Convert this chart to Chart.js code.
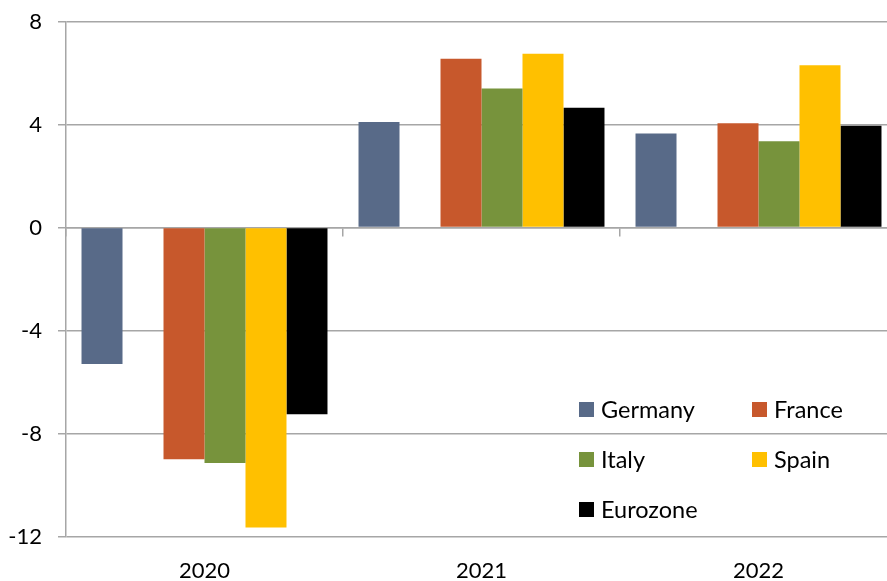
<!DOCTYPE html>
<html>
<head>
<meta charset="utf-8">
<script src="https://cdn.jsdelivr.net/npm/chart.js@4/dist/chart.umd.min.js"></script>
<style>
    html, body { margin: 0; padding: 0; background: #fff; overflow: hidden; }
    #wrap { position: relative; width: 900px; height: 581px; }
    #chart { display: block; }
    #legend {
        position: absolute; left: 579px; top: 384px;
        display: grid; grid-template-columns: 173px 120px; row-gap: 0;
        font-family: Lato, "Open Sans", sans-serif; font-size: 23.5px; color: #000;
    }
    #legend .item { display: flex; align-items: center; height: 50px; }
    #legend .box { width: 15px; height: 15px; margin-right: 7px; }
</style>
</head>
<body>
<div id="wrap">
    <canvas id="chart" width="900" height="581"></canvas>
    <div id="legend"></div>
</div>
<script>
// Data
const years = ["2020", "2021", "2022"];
const germany = [-5.3, 4.1, 3.65];
const france = [-9.0, 6.55, 4.05];
const italy = [-9.15, 5.4, 3.35];
const spain = [-11.65, 6.75, 6.3];
const eurozone = [-7.25, 4.65, 3.95];
const yTicks = [-12, -8, -4, 0, 4, 8];

const GRID = "#a6a6a6";
const FONT = { family: "Lato, 'Open Sans', sans-serif", size: 22 };

function bar(label, data, color) {
    return { label: label, data: data, backgroundColor: color, borderWidth: 0 };
}

const datasets = [
    bar("Germany", germany, "#586a88"),
    // empty slot between Germany and France
    bar("", years.map(_ => null), "transparent"),
    bar("France", france, "#c7582c"),
    bar("Italy", italy, "#77933c"),
    bar("Spain", spain, "#ffc000"),
    bar("Eurozone", eurozone, "#000000"),
];

const chart = new Chart(document.getElementById("chart").getContext("2d"), {
    type: "bar",
    data: { labels: years, datasets: datasets },
    options: {
        responsive: false,
        animation: false,
        layout: { padding: { top: 21.5, right: 3, left: 0, bottom: 0 } },
        datasets: { bar: { categoryPercentage: 0.888, barPercentage: 1 } },
        plugins: { legend: { display: false }, tooltip: { enabled: false } },
        scales: {
            x: {
                grid: { display: false, drawTicks: false },
                border: { display: false },
                ticks: { color: "#000", font: FONT, padding: 21, maxRotation: 0 },
                afterFit: s => { s.height = 44.5; },
            },
            // category tick marks along the zero line
            x0: {
                type: "category",
                position: { y: 0 },
                offset: true,
                grid: { drawOnChartArea: false, offset: true, color: GRID, tickLength: 8, lineWidth: 1.5 },
                border: { display: true, color: GRID, width: 1.5 },
                ticks: { display: false },
                afterFit: s => { s.height = 0; },
            },
            y: {
                min: -12,
                max: 8,
                afterBuildTicks: s => { s.ticks = yTicks.map(v => ({ value: v })); },
                grid: { color: GRID, lineWidth: 1.5, tickLength: 8 },
                border: { display: true, color: GRID, width: 1.5 },
                ticks: { color: "#000", font: FONT, padding: 16 },
                // label padding should not push the plot down
                afterFit: s => { s.width = 66; s.paddingTop = 0; s.paddingBottom = 0; },
            },
        },
    },
});

// HTML legend
const legend = document.getElementById("legend");
chart.data.datasets.filter(d => d.label).forEach(d => {
    let item = document.createElement("div");
    item.className = "item";
    item.innerHTML = '<span class="box" style="background:' + d.backgroundColor + '"></span>' + d.label;
    legend.appendChild(item);
});
</script>
</body>
</html>
